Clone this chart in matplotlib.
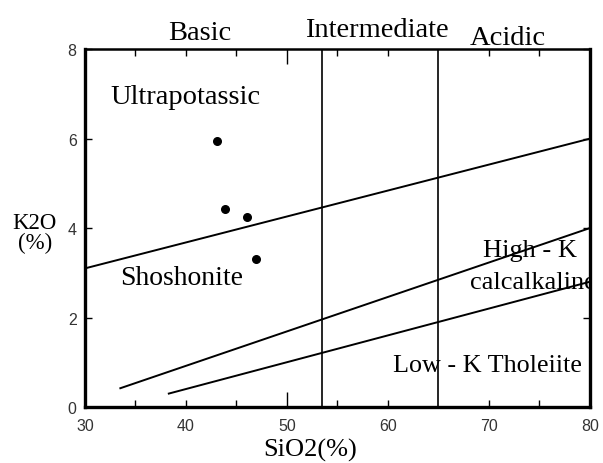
import matplotlib.pyplot as plt

# sample points (SiO2, K2O)
sio2 = [43.1, 43.9, 46.0, 46.9]
k2o = [5.95, 4.42, 4.25, 3.3]

# boundary lines between series
ultra_x = [30, 80]
ultra_y = [3.1, 6.0]
highk_x = [33.5, 80]
highk_y = [0.42, 4.0]
lowk_x = [38.3, 80]
lowk_y = [0.3, 2.8]

# basic / intermediate / acidic limits
divisions = [53.5, 65]

xticks = [30, 40, 50, 60, 70, 80]
yticks = [0, 2, 4, 6, 8]

serif = "Liberation Serif"
sans = "Liberation Sans"

fig = plt.figure(figsize=(6.03, 4.64), dpi=100)
ax = fig.add_axes([0.141, 0.1207, 0.837, 0.771])

ax.plot(ultra_x, ultra_y, color="black", lw=1.4)
ax.plot(highk_x, highk_y, color="black", lw=1.4)
ax.plot(lowk_x, lowk_y, color="black", lw=1.4)
for d in divisions:
    ax.axvline(d, color="black", lw=1.2)
ax.scatter(sio2, k2o, s=30, color="black", zorder=3)

ax.set_xlim(30, 80)
ax.set_ylim(0, 8)
ax.set_xticks(xticks)
ax.set_yticks(yticks)
ax.set_xticks([35, 45, 55, 75], minor=True)
ax.tick_params(axis="both", which="both", direction="in", top=True, right=True,
               length=5, width=1, labelsize=11.5)
ax.tick_params(axis="x", pad=8)
ax.tick_params(axis="y", pad=6)
for lab in ax.get_xticklabels() + ax.get_yticklabels():
    lab.set_family(sans)
    lab.set_color("#333333")
# the tick at 50 is drawn longer
t50 = ax.xaxis.get_major_ticks()[2]
t50.tick1line.set_markersize(11)
t50.tick2line.set_markersize(11)

for side in ["left", "bottom", "right"]:
    ax.spines[side].set_linewidth(2.4)
ax.spines["top"].set_linewidth(1.8)

fig.text(0.514, 0.004, "SiO2(%)", family=serif, fontsize=19, ha="center", va="bottom")
fig.text(0.058, 0.497, "K2O\n(%)", family=serif, fontsize=16.5, ha="center",
         va="center", linespacing=0.9)

fig.text(0.332, 0.914, "Basic", family=serif, fontsize=20.5, ha="center", va="baseline")
fig.text(0.625, 0.921, "Intermediate", family=serif, fontsize=20.5, ha="center", va="baseline")
fig.text(0.842, 0.903, "Acidic", family=serif, fontsize=20.5, ha="center", va="baseline")

ax.text(32.5, 6.79, "Ultrapotassic", family=serif, fontsize=20.5, va="baseline")
ax.text(33.5, 2.75, "Shoshonite", family=serif, fontsize=20, va="baseline")
ax.text(69.4, 3.37, "High - K", family=serif, fontsize=19, va="baseline")
ax.text(68.1, 2.66, "calcalkaline", family=serif, fontsize=19, va="baseline", clip_on=True)
ax.text(60.5, 0.80, "Low - K Tholeiite", family=serif, fontsize=18.8, va="baseline")

fig.savefig("out.png", dpi=100)
